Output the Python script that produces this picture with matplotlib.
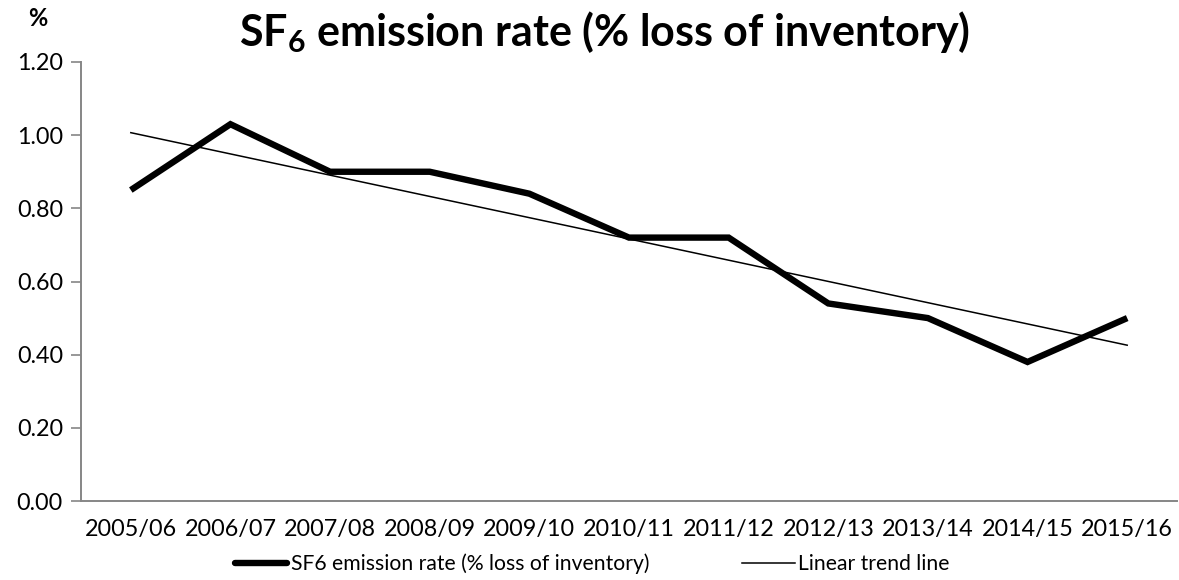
import numpy as np
import matplotlib
matplotlib.use("Agg")
import matplotlib.pyplot as plt
from matplotlib.lines import Line2D

plt.rcParams['font.family'] = ['Lato', 'DejaVu Sans']
plt.rcParams['mathtext.fontset'] = 'custom'
plt.rcParams['mathtext.rm'] = 'Lato:bold'
plt.rcParams['mathtext.bf'] = 'Lato:bold'

years = ['2005/06', '2006/07', '2007/08', '2008/09', '2009/10', '2010/11',
         '2011/12', '2012/13', '2013/14', '2014/15', '2015/16']
rate = [0.85, 1.03, 0.90, 0.90, 0.84, 0.72, 0.72, 0.54, 0.50, 0.38, 0.50]

x = np.arange(len(years))
slope, icpt = np.polyfit(x, rate, 1)
trend = slope * x + icpt

fig = plt.figure(figsize=(11.79, 5.80), dpi=100)
ax = fig.add_axes([81/1179, 1 - 501/580, (1177 - 81)/1179, (501 - 62)/580])

ax.plot(x, rate, color='black', lw=4.6, solid_joinstyle='miter', solid_capstyle='butt')
ax.plot(x, trend, color='black', lw=1.1)

ax.set_xlim(-0.5, len(years) - 0.5)
ax.set_ylim(0, 1.2)
yt = np.arange(0, 1.21, 0.2)
ax.set_yticks(yt)
ax.set_yticklabels(['%.2f' % v for v in yt])
ax.set_xticks(x)
ax.set_xticklabels(years)

for s in ['top', 'right']:
    ax.spines[s].set_visible(False)
for s in ['left', 'bottom']:
    ax.spines[s].set_color('#868686')
    ax.spines[s].set_linewidth(1.4)
ax.tick_params(axis='y', length=7, width=1.2, color='#868686', labelsize=16.8, pad=6)
ax.tick_params(axis='x', length=0, labelsize=16.8, pad=13)

fig.text(605/1179, 1 - 46/580, r'SF$_6$ emission rate (% loss of inventory)',
         ha='center', va='baseline', fontsize=31, fontweight='bold')
fig.text(38/1179, 1 - 18/580, '%', ha='center', va='center', fontsize=17, fontweight='bold')

handles = [Line2D([], [], color='black', lw=4.6, solid_capstyle='round'),
           Line2D([], [], color='black', lw=1.1)]
fig.legend(handles, ['SF6 emission rate (% loss of inventory)', 'Linear trend line'],
           loc='center', bbox_to_anchor=(592/1179, 1 - 564/580), ncol=2, frameon=False,
           fontsize=15.2, handlelength=2.5, handletextpad=0.15, columnspacing=4.4,
           borderpad=0, borderaxespad=0)

fig.savefig('out.png', dpi=100)
